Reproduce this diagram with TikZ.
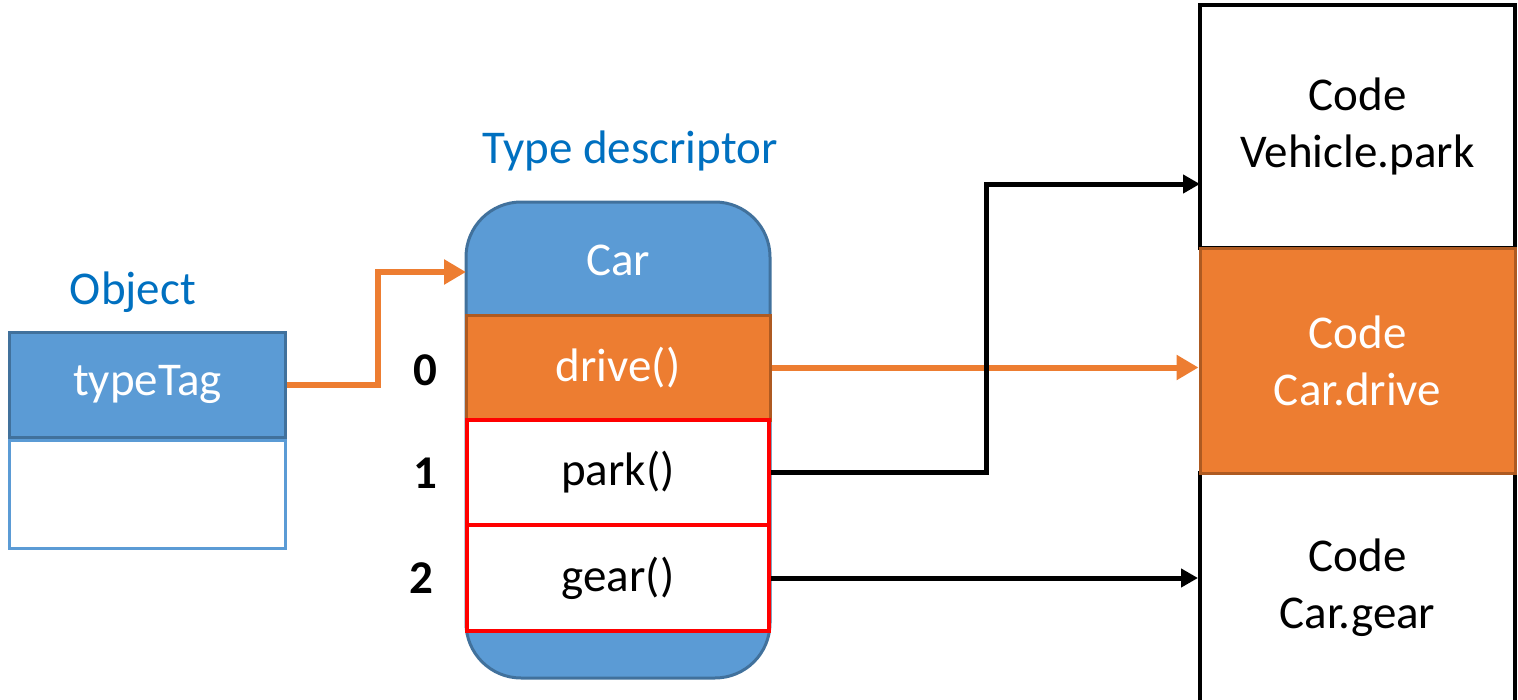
\documentclass[tikz,border=0pt]{standalone}
\usepackage{fontspec}
\setmainfont{Carlito}
\usetikzlibrary{arrows.meta,positioning}

\definecolor{accblue}{HTML}{5B9BD5}
\definecolor{edgeblue}{HTML}{41719C}
\definecolor{accorange}{HTML}{ED7D31}
\definecolor{edgeorange}{HTML}{AE5A21}
\definecolor{titleblue}{HTML}{0070C0}

\newcommand\bigtext{\fontsize{47}{57}\selectfont}

\tikzset{
  cell/.style={inner sep=0pt, align=center, font=\bigtext, line width=3},
  title/.style={inner sep=0pt, font=\bigtext, text=titleblue},
  slotnum/.style={inner sep=0pt, font=\bigtext\bfseries},
  oarrow/.style={draw=accorange, line width=6, -{Triangle[length=22,width=24]}},
  barrow/.style={draw=black, line width=5, -{Triangle[length=17,width=18]}},
}

\begin{document}
\begin{tikzpicture}[x=1pt,y=-1pt]
\useasboundingbox (0,0) rectangle (1518,699);

	% object
	\node[title] (objlabel) at (133,292) {Object};
	\node[cell, fill=accblue, draw=edgeblue, text=white,
	      minimum width=276, minimum height=105] (tag) at (147.5,384.5) {typeTag};
	\node[cell, draw=accblue, minimum width=276, minimum height=108,
	      below=0pt of tag] (slot) {};

	% type descriptor
	\node[title] (desclabel) at (630,151) {Type descriptor};
	\node[cell, draw=edgeblue, fill=accblue, rounded corners=55,
	      minimum width=304, minimum height=476] (desc) at (618,440) {};
	\node[cell, text=white] (car) at (618,260) {Car};
	\node[cell, fill=accorange, draw=edgeorange, text=white,
	      minimum width=304, minimum height=105] (drive) at (618,367.5) {drive()};
	\node[cell, fill=white, draw=red, line width=4,
	      minimum width=302, minimum height=105] (park) at (618,472.5) {park()};
	\node[cell, fill=white, draw=red, line width=4,
	      minimum width=302, minimum height=106] (gear) at (618,578) {gear()};

	\node[slotnum] (n0) at (425,370) {0};
	\node[slotnum] (n1) at (425,473) {1};
	\node[slotnum] (n2) at (421,578) {2};

	% code
	\node[cell, draw=black, line width=4,
	      minimum width=315, minimum height=243] (vpark) at (1357.5,126.5) {Code\\Vehicle.park};
	\node[cell, draw=black, line width=4,
	      minimum width=315, minimum height=230] (cgear) at (1357.5,588) {Code\\Car.gear};
	\node[cell, fill=accorange, draw=edgeorange, text=white,
	      minimum width=315, minimum height=225] (cdrive) at (1357.5,360.5) {Code\\Car.drive};

	% links
	\coordinate (carin) at (466,272);
	\coordinate (parkin) at (1200,184);
	\draw[oarrow] (tag.east) -- ++(91,0) |- (carin);
	\draw[oarrow] (drive.east) -- (drive.east -| cdrive.west);
	\draw[barrow] (park.east) -- ++(215,0) |- (parkin);
	\draw[barrow] (gear.east) -- (gear.east -| cgear.west);

\end{tikzpicture}
\end{document}
